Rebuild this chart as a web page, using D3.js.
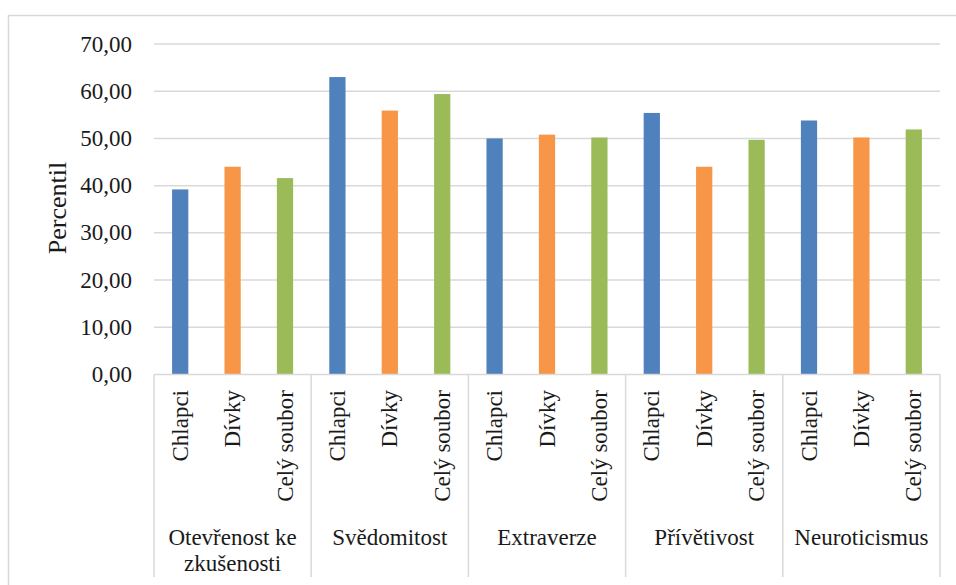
<!DOCTYPE html>
<html>
<head>
<meta charset="utf-8">
<script src="https://cdn.jsdelivr.net/npm/d3@7"></script>
<style>
    body { margin: 0; background: #fff; }
</style>
</head>
<body>
<div id="chart"></div>
<script>
// chart values
const categories = ['Otevřenost ke zkušenosti', 'Svědomitost', 'Extraverze', 'Přívětivost', 'Neuroticismus'];
const groups = ['Chlapci', 'Dívky', 'Celý soubor'];
const chlapci = [39.2, 63.0, 50.0, 55.4, 53.8];
const divky = [44.0, 55.9, 50.8, 44.0, 50.2];
const celySoubor = [41.6, 59.4, 50.2, 49.7, 51.9];
const yTicks = [0, 10, 20, 30, 40, 50, 60, 70];
const colors = ['#4f81bd', '#f79646', '#9bbb59'];

const width = 956;
const height = 585;
const plot = { left: 154, right: 940, top: 44, bottom: 374.5 };
const gridColor = '#d9d9d9';
const font = "'Liberation Serif', 'Times New Roman', Times, 'DejaVu Serif', serif";

const series = [chlapci, divky, celySoubor];
const rows = categories.map((c, i) => ({
    category: c,
    values: groups.map((g, j) => ({ group: g, value: series[j][i] }))
}));

const svg = d3.select('#chart')
    .append('svg')
    .attr('width', width)
    .attr('height', height)
    .attr('font-family', font)
    .style('font-family', font);

// outer chart frame (only the left and top edges are in view)
svg.append('path')
    .attr('d', `M8.5,${height} V15.5 H${width}`)
    .attr('fill', 'none')
    .attr('stroke', gridColor)
    .attr('stroke-width', 1.5);

const x = d3.scaleBand()
    .domain(categories)
    .range([plot.left, plot.right])
    .padding(0);

const xSub = d3.scaleBand()
    .domain(groups)
    .range([0, x.bandwidth()])
    .paddingInner(0.69)
    .paddingOuter(0.345);

const y = d3.scaleLinear()
    .domain([0, 70])
    .range([plot.bottom, plot.top]);

const fmt = d => d3.format('.2f')(d).replace('.', ',');

// gridlines
svg.append('g')
    .selectAll('line')
    .data(yTicks.filter(t => t > 0))
    .enter()
    .append('line')
    .attr('x1', plot.left)
    .attr('x2', plot.right)
    .attr('y1', d => y(d))
    .attr('y2', d => y(d))
    .attr('stroke', gridColor)
    .attr('stroke-width', 1.5);

// y tick labels
svg.append('g')
    .selectAll('text')
    .data(yTicks)
    .enter()
    .append('text')
    .attr('x', 132)
    .attr('y', d => y(d))
    .attr('dy', '0.33em')
    .attr('text-anchor', 'end')
    .attr('fill', '#1a1a1a')
    .style('font-size', '23px')
    .text(fmt);

// axis title
svg.append('text')
    .attr('transform', `translate(66,208) rotate(-90)`)
    .attr('text-anchor', 'middle')
    .attr('fill', '#1a1a1a')
    .style('font-size', '26px')
    .text('Percentil');

// bars
const cat = svg.append('g')
    .selectAll('g')
    .data(rows)
    .enter()
    .append('g')
    .attr('transform', d => `translate(${x(d.category)},0)`);

cat.selectAll('rect')
    .data(d => d.values)
    .enter()
    .append('rect')
    .attr('x', d => xSub(d.group))
    .attr('y', d => y(d.value))
    .attr('width', xSub.bandwidth())
    .attr('height', d => y(0) - y(d.value))
    .attr('fill', (d, i) => colors[i]);

// x axis baseline and category separators
svg.append('line')
    .attr('x1', plot.left)
    .attr('x2', plot.right)
    .attr('y1', y(0))
    .attr('y2', y(0))
    .attr('stroke', gridColor)
    .attr('stroke-width', 1.5);

const sepX = categories.map(c => x(c)).concat([plot.right]);
svg.append('g')
    .selectAll('line')
    .data(sepX)
    .enter()
    .append('line')
    .attr('x1', d => d)
    .attr('x2', d => d)
    .attr('y1', y(0))
    .attr('y2', 577)
    .attr('stroke', gridColor)
    .attr('stroke-width', 1.5);

// rotated group labels
cat.selectAll('text.group')
    .data(d => d.values)
    .enter()
    .append('text')
    .attr('class', 'group')
    .attr('transform', d => `translate(${xSub(d.group) + xSub.bandwidth() / 2},390) rotate(-90)`)
    .attr('dy', '0.33em')
    .attr('text-anchor', 'end')
    .attr('fill', '#1a1a1a')
    .style('font-size', '23px')
    .text(d => d.group);

// category labels, wrapped to the band width
cat.append('text')
    .attr('class', 'category')
    .attr('x', x.bandwidth() / 2)
    .attr('y', 545)
    .attr('text-anchor', 'middle')
    .attr('fill', '#1a1a1a')
    .style('font-size', '23px')
    .each(function (d) {
        const el = d3.select(this);
        const words = d.category.split(' ');
        let line = [];
        let tspan = el.append('tspan').attr('x', x.bandwidth() / 2).attr('dy', 0);
        words.forEach(w => {
            line.push(w);
            tspan.text(line.join(' '));
            if (tspan.node().getComputedTextLength() > x.bandwidth() - 6 && line.length > 1) {
                line.pop();
                tspan.text(line.join(' '));
                line = [w];
                tspan = el.append('tspan').attr('x', x.bandwidth() / 2).attr('dy', '1.12em').text(w);
            }
        });
    });
</script>
</body>
</html>
